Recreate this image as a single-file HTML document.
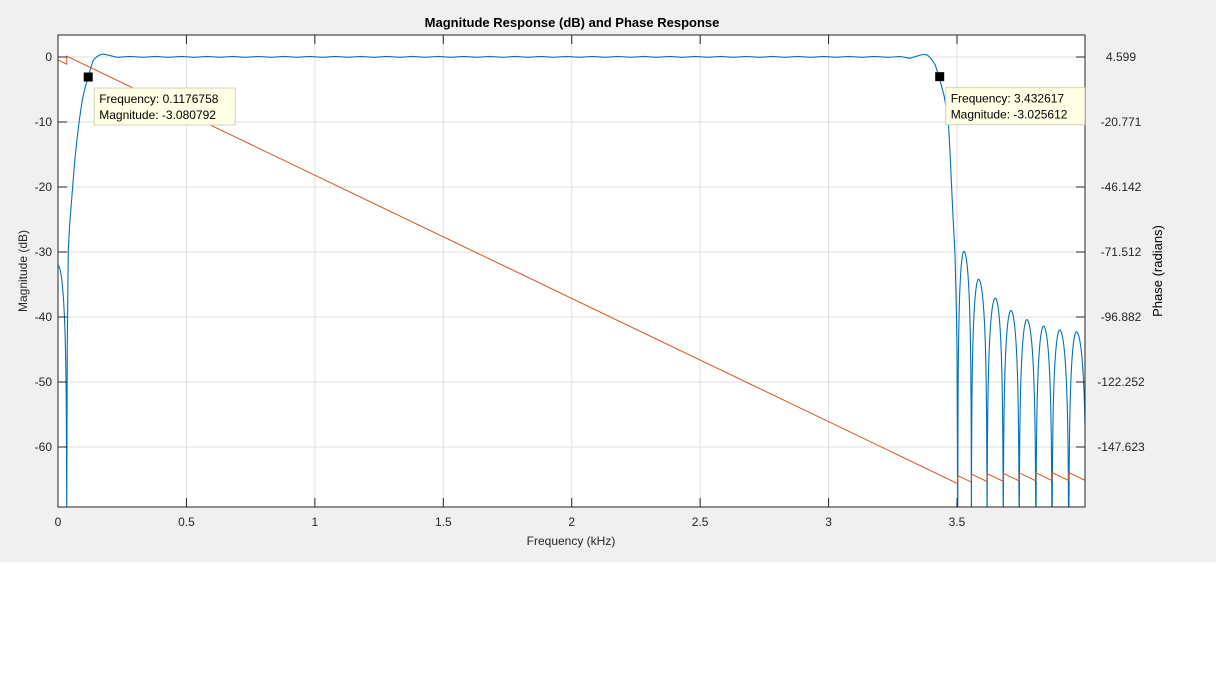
<!DOCTYPE html>
<html><head><meta charset="utf-8"><style>
html,body{margin:0;padding:0;background:#fff;}
svg{display:block;font-family:"Liberation Sans",Arial,sans-serif;}
</style></head><body>
<svg id="chart" width="1216" height="692" viewBox="0 0 1216 692">
<rect x="0" y="0" width="1216" height="562" fill="#f0f0f0"/>
<rect x="58" y="35" width="1027" height="472" fill="#fff"/>
<g id="grid"></g>
<g id="series"></g>
<rect x="58" y="35" width="1027" height="472" fill="none" stroke="#262626" stroke-width="1"/>
<g id="ticks"></g>
<text x="572" y="27" text-anchor="middle" font-size="13" font-weight="bold" fill="#000">Magnitude Response (dB) and Phase Response</text>
<text x="571" y="545" text-anchor="middle" font-size="12" fill="#262626">Frequency (kHz)</text>
<text transform="translate(27,271) rotate(-90)" text-anchor="middle" font-size="12" fill="#262626">Magnitude (dB)</text>
<text transform="translate(1162,271) rotate(-90)" text-anchor="middle" font-size="13" fill="#000">Phase (radians)</text>
<g id="tips"></g>
</svg>
<script>
const xTicks=[0,0.5,1,1.5,2,2.5,3,3.5];
const xTickLabels=["0","0.5","1","1.5","2","2.5","3","3.5"];
const yTicks=[0,-10,-20,-30,-40,-50,-60];
const yTickLabels=["0","-10","-20","-30","-40","-50","-60"];
const y2Ticks=[4.599,-20.771,-46.142,-71.512,-96.882,-122.252,-147.623];
const y2TickLabels=["4.599","-20.771","-46.142","-71.512","-96.882","-122.252","-147.623"];
// magnitude transition + passband points (kHz, dB)
const passF=[0.034,0.036,0.040,0.045,0.050,0.057,0.065,0.073,0.083,0.095,0.105,0.1177,0.125,0.137,0.150,0.160,0.176,0.20,0.23,0.28,0.33,0.38,0.43,0.48,0.53,0.58,0.63,0.68,0.73,0.78,0.83,0.88,0.93,0.98,1.03,1.08,1.13,1.18,1.23,1.28,1.33,1.38,1.43,1.48,1.53,1.58,1.63,1.68,1.73,1.78,1.83,1.88,1.93,1.98,2.03,2.08,2.13,2.18,2.23,2.28,2.33,2.38,2.43,2.48,2.53,2.58,2.63,2.68,2.73,2.78,2.83,2.88,2.93,2.98,3.03,3.08,3.13,3.18,3.23,3.28,3.316,3.345,3.369,3.385,3.40,3.415,3.43,3.45,3.466,3.472,3.479,3.485,3.492,3.497,3.500,3.503];
const passDb=[-100,-45,-29.7,-26,-23.5,-20,-16,-13,-9.7,-6.5,-4.8,-3.08,-2.0,-0.5,0.0,0.3,0.45,0.25,-0.05,0.08,-0.05,0.08,-0.05,0.08,-0.05,0.08,-0.05,0.08,-0.05,0.08,-0.05,0.08,-0.05,0.08,-0.05,0.08,-0.05,0.08,-0.05,0.08,-0.05,0.08,-0.05,0.08,-0.05,0.08,-0.05,0.08,-0.05,0.08,-0.05,0.08,-0.05,0.08,-0.05,0.08,-0.05,0.08,-0.05,0.08,-0.05,0.08,-0.05,0.08,-0.05,0.08,-0.05,0.08,-0.05,0.08,-0.05,0.08,-0.05,0.08,-0.05,0.08,-0.05,0.08,-0.05,0.08,-0.2,0.15,0.4,0.3,-0.3,-1.2,-3.03,-6,-9.7,-14,-20,-25,-30.2,-38,-45,-100];
// sidelobes: left null, peak freq, peak dB, right null
const lobeA=[-0.034,3.503,3.556,3.617,3.680,3.742,3.807,3.870,3.935];
const lobeP=[0.0,3.527,3.584,3.649,3.710,3.772,3.837,3.900,3.965];
const lobeDb=[-32.1,-29.9,-34.2,-37.1,-39.0,-40.4,-41.4,-42.0,-42.3];
const lobeB=[0.034,3.556,3.617,3.680,3.742,3.807,3.870,3.935,4.003];
// phase breakpoints (kHz, radians)
const phF=[0,0.034,0.034,3.503,3.503,3.556,3.556,3.617,3.617,3.680,3.680,3.742,3.742,3.807,3.807,3.870,3.870,3.935,3.935,3.998];
const phV=[3.42,1.785,4.93,-161.93,-158.79,-161.34,-158.20,-161.13,-157.99,-161.02,-157.88,-160.86,-157.72,-160.85,-157.71,-160.74,-157.60,-160.73,-157.59,-160.62];
const tipF=[0.1176758,3.432617];
const tipM=[-3.080792,-3.025612];
const tipLabF=["0.1176758","3.432617"];
const tipLabM=["-3.080792","-3.025612"];

const NS="http://www.w3.org/2000/svg";
const L=58,R=1085,T=35,B=507;
const xMax=(R-L)/256.86;
const X=f=>L+(f/xMax)*(R-L);
const dbTop=3.385, dbBot=-69.23;
const Y=d=>T+(dbTop-d)/(dbTop-dbBot)*(B-T);
const phTop=4.599+22*0.39032, phBot=4.599-450*0.39032;
const Y2=p=>T+(phTop-p)/(phTop-phBot)*(B-T);
function mk(tag,attrs,parent){const e=document.createElementNS(NS,tag);for(const k in attrs)e.setAttribute(k,attrs[k]);parent.appendChild(e);return e;}
const grid=document.getElementById('grid'),ticks=document.getElementById('ticks'),series=document.getElementById('series'),tips=document.getElementById('tips');

xTicks.forEach((v,i)=>{const x=X(v);
 if(i>0){const g=mk('line',{x1:x,x2:x,y1:T,y2:B,stroke:'#dfdfdf'},grid);
 
 }
 const t=mk('line',{x1:x,x2:x,y1:B,y2:B-9,stroke:'#262626'},ticks);
 
 
 const t2=mk('line',{x1:x,x2:x,y1:T,y2:T+9,stroke:'#262626'},ticks);
 
 
 const s=mk('text',{x:x,y:526,'text-anchor':'middle','font-size':12,fill:'#262626'},ticks);s.textContent=xTickLabels[i];
 
 
});
yTicks.forEach((v,i)=>{const y=Y(v);
 const g=mk('line',{x1:L,x2:R,y1:y,y2:y,stroke:'#dfdfdf'},grid);
 
 
 const t=mk('line',{x1:L,x2:L+9,y1:y,y2:y,stroke:'#262626'},ticks);
 
 
 const s=mk('text',{x:52,y:y+4,'text-anchor':'end','font-size':12,fill:'#262626'},ticks);s.textContent=yTickLabels[i];
 
 
});
y2Ticks.forEach((v,i)=>{const y=Y2(v);
 const t=mk('line',{x1:R-9,x2:R,y1:y,y2:y,stroke:'#262626'},ticks);
 
 
 const s=mk('text',{x:1121,y:y+4,'text-anchor':'middle','font-size':12,fill:'#262626'},ticks);s.textContent=y2TickLabels[i];
 
 
});

const clipP=mk('clipPath',{id:'pc'},series);mk('rect',{x:L,y:T,width:R-L,height:B-T},clipP);
const clamp=d=>Math.max(d,dbBot-2);
let pts=[];
function lobe(i){const a=lobeA[i],p=lobeP[i],b=lobeB[i],pk=lobeDb[i];const out=[];
 const N=40;
 for(let k=0;k<=N;k++){const f=a+(p-a)*k/N;if(f<0)continue;const s=Math.sin(Math.PI/2*(f-a)/(p-a));out.push([f,pk+20*Math.log10(Math.max(s,1e-5))]);}
 for(let k=1;k<=N;k++){const f=p+(b-p)*k/N;if(f>xMax)break;const s=Math.sin(Math.PI/2*(b-f)/(b-p));out.push([f,pk+20*Math.log10(Math.max(s,1e-5))]);}
 return out;}
pts=pts.concat(lobe(0));
passF.forEach((f,i)=>pts.push([f,passDb[i]]));
for(let i=1;i<lobeA.length;i++)pts=pts.concat(lobe(i));
const magD=pts.map((q,i)=>(i?'L':'M')+X(q[0]).toFixed(2)+' '+Y(clamp(q[1])).toFixed(2)).join('');
const mag=mk('path',{d:magD,fill:'none',stroke:'#0072BD','stroke-width':1.1,'clip-path':'url(#pc)','stroke-linejoin':'round'},series);


const phD=phF.map((f,i)=>(i?'L':'M')+X(f).toFixed(2)+' '+Y2(phV[i]).toFixed(2)).join('');
const ph=mk('path',{d:phD,fill:'none',stroke:'#D95319','stroke-width':1,'clip-path':'url(#pc)'},series);



tipF.forEach((f,i)=>{const x=X(f),y=Y(tipM[i]);
 const m=mk('rect',{x:x-4.5,y:y-4.5,width:9,height:9,fill:'#000'},tips);
 
 
 const bx=x+6,by=y+11,w=i?139:141;
 const r=mk('rect',{x:bx,y:by,width:w,height:37,fill:'#ffffe6',stroke:'#d4d4b8'},tips);
 
 
 const t1=mk('text',{x:bx+5,y:by+15,'font-size':12,fill:'#000'},tips);t1.textContent='Frequency: '+tipLabF[i];
 
 
 const t2=mk('text',{x:bx+5,y:by+31,'font-size':12,fill:'#000'},tips);t2.textContent='Magnitude: '+tipLabM[i];
 
 
});
</script>
</body></html>
